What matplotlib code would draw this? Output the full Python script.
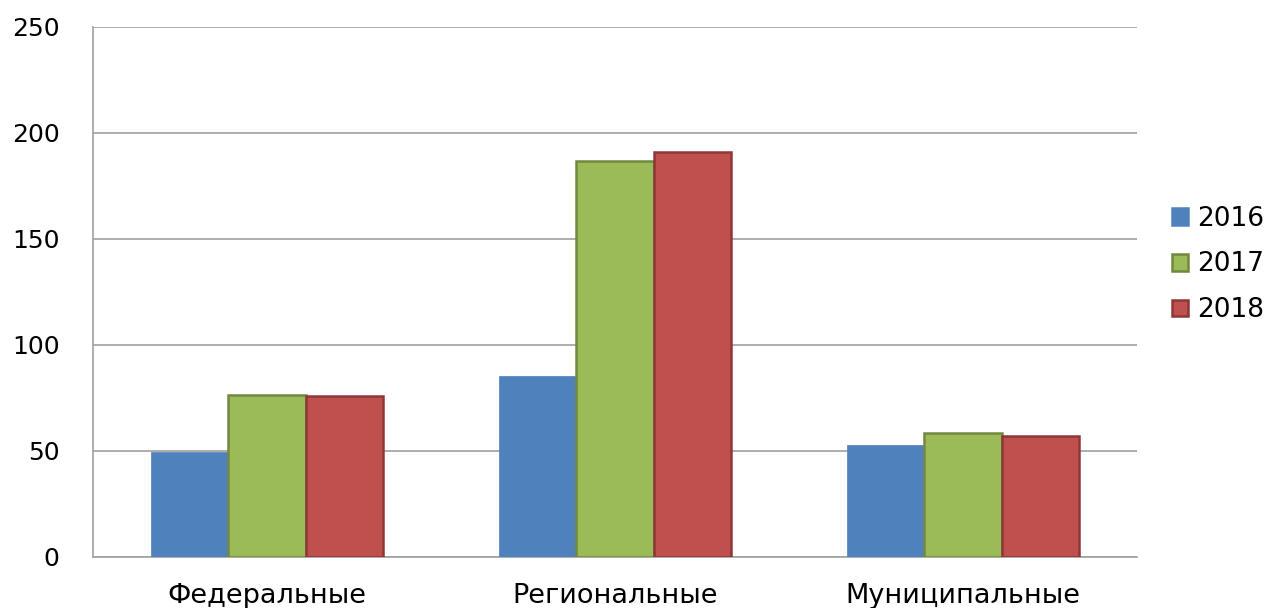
import numpy as np
import matplotlib.pyplot as plt
from matplotlib.patches import Patch

categories = ['Федеральные', 'Региональные', 'Муниципальные']
years = ['2016', '2017', '2018']
v2016 = [49.5, 85.5, 52.7]
v2017 = [76.4, 187.0, 58.5]
v2018 = [76.0, 191.0, 57.0]

fills = ['#4F81BD', '#9BBB59', '#C0504D']
edges = ['#4F81BD', '#71893F', '#8C3836']

fig = plt.figure(figsize=(12.67, 6.08), dpi=100)
ax = fig.add_axes([0.0734, 0.0839, 0.8240, 0.8717])

x = np.arange(len(categories))
w = 0.222
for i, vals in enumerate([v2016, v2017, v2018]):
    ax.bar(x + (i - 1) * w, vals, w, color=fills[i], edgecolor=edges[i],
           linewidth=1.8 if i else 0.5, zorder=3)

ax.set_xlim(-0.5, 2.5)
ax.set_ylim(0, 250)
ax.set_yticks(range(0, 251, 50))
ax.set_xticks(x)
ax.set_xticklabels(categories, fontsize=19.5)
ax.yaxis.grid(True, color='#A0A0A0', linewidth=1.2, zorder=0)
for s in ['top', 'right']:
    ax.spines[s].set_visible(False)
ax.spines['left'].set_color('#A0A0A0')
ax.spines['bottom'].set_color('#A0A0A0')
ax.spines['left'].set_linewidth(1.2)
ax.spines['bottom'].set_linewidth(1.2)
ax.tick_params(axis='both', length=0, colors='black')
ax.tick_params(axis='y', pad=24, labelsize=18)
ax.tick_params(axis='x', pad=19)

handles = [Patch(facecolor=fills[i], edgecolor=edges[i], linewidth=1.8) for i in range(3)]
ax.legend(handles, years, loc='center left', bbox_to_anchor=(1.008, 0.552),
          frameon=False, fontsize=19, handlelength=0.6, handleheight=0.6,
          handletextpad=0.35, labelspacing=0.75, borderaxespad=0.6)

fig.savefig('out.png', dpi=100)
